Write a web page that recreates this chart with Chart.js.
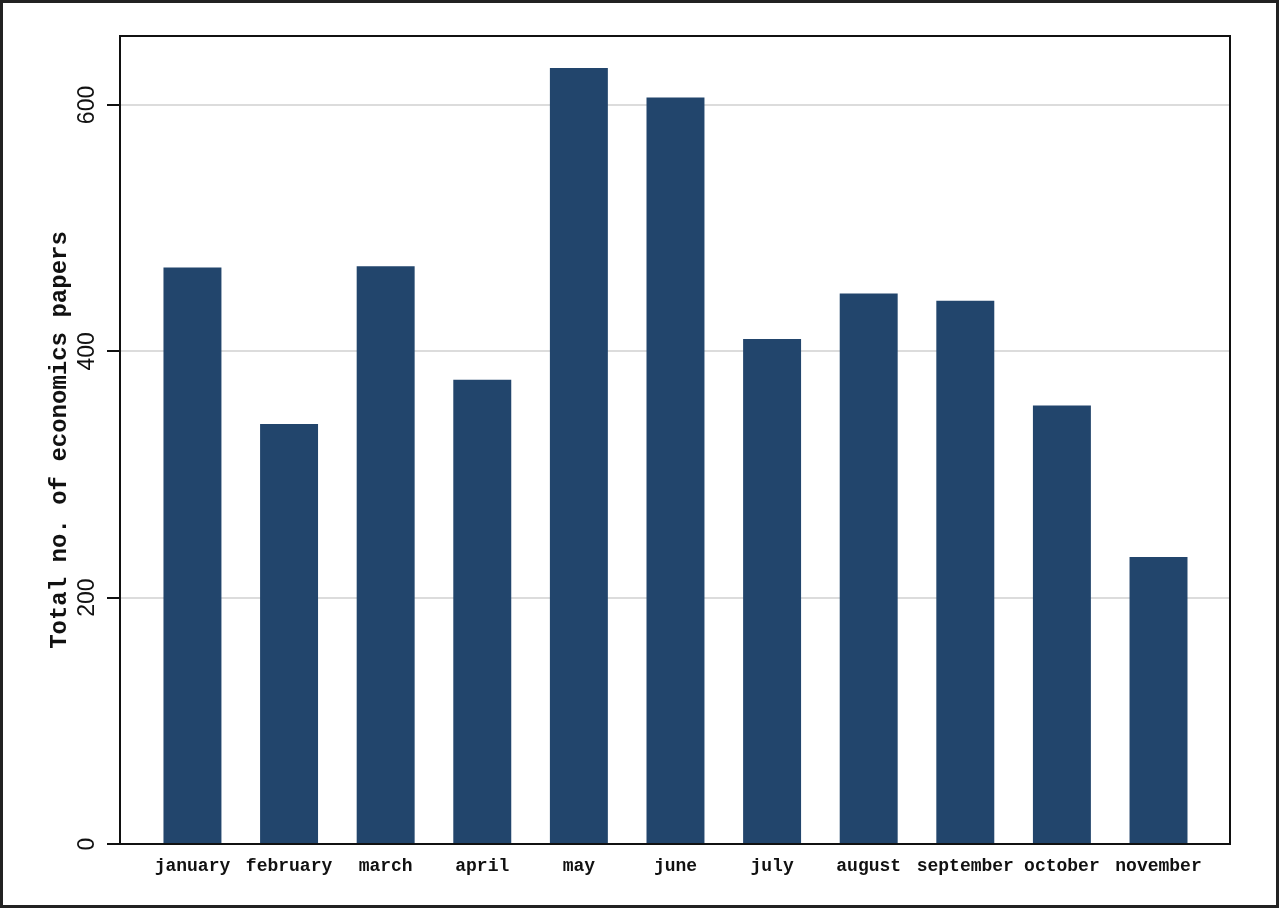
<!DOCTYPE html>
<html>
<head>
<meta charset="utf-8">
<script src="https://cdn.jsdelivr.net/npm/chart.js@4"></script>
<style>
  html, body { margin: 0; padding: 0; background: #fff; }
  #wrap { width: 1280px; height: 910px; position: relative; }
</style>
</head>
<body>
<div id="wrap"><canvas id="chart" width="1280" height="910"></canvas></div>
<script>
const months = ["january", "february", "march", "april", "may", "june",
  "july", "august", "september", "october", "november"];
const papers = [468, 341, 469, 377, 630, 606, 410, 447, 441, 356, 233];
const yTicks = [0, 200, 400, 600];

// draws frame, rotated y tick labels and outer border
const frame = {
  id: "frame",
  afterDatasetsDraw(chart) {
    const { ctx, chartArea: a } = chart;
    const y = chart.scales.y;
    ctx.save();
    ctx.strokeStyle = "#111";
    ctx.lineWidth = 2;
    ctx.strokeRect(a.left, a.top, a.right - a.left, a.bottom - a.top);

    ctx.fillStyle = "#111";
    ctx.font = "23px 'Liberation Sans', Arial, sans-serif";
    ctx.textAlign = "center";
    ctx.textBaseline = "middle";
    yTicks.forEach(v => {
      ctx.save();
      ctx.translate(88, y.getPixelForValue(v));
      ctx.rotate(-Math.PI / 2);
      ctx.fillText(String(v), 0, 0);
      ctx.restore();
    });

    ctx.strokeStyle = "#222";
    ctx.lineWidth = 3;
    ctx.strokeRect(1.5, 1.5, chart.width - 4, chart.height - 5);
    ctx.restore();
  }
};

new Chart(document.getElementById("chart"), {
  type: "bar",
  data: {
    datasets: [{
      data: papers.map((v, i) => ({ x: i, y: v })),
      backgroundColor: "#22456c",
      borderWidth: 0,
      barPercentage: 0.6,
      categoryPercentage: 1
    }]
  },
  options: {
    responsive: false,
    animation: false,
    devicePixelRatio: 1,
    layout: { padding: { left: 0, top: 36, right: 50, bottom: 0 } },
    plugins: { legend: { display: false }, tooltip: { enabled: false } },
    scales: {
      x: {
        type: "linear",
        offset: false,
        min: -0.75,
        max: 10.74,
        afterBuildTicks: s => { s.ticks = months.map((m, i) => ({ value: i })); },
        afterFit: s => { s.height = 66; },
        grid: { display: false, drawTicks: false, offset: false },
        border: { display: false },
        ticks: {
          autoSkip: false,
          maxRotation: 0,
          minRotation: 0,
          padding: 12,
          color: "#111",
          font: { family: "'Liberation Mono', 'Courier New', monospace", size: 18, weight: "bold" },
          callback: v => months[v] ?? ""
        }
      },
      y: {
        min: 0,
        max: 656,
        afterBuildTicks: s => { s.ticks = yTicks.map(v => ({ value: v })); },
        afterFit: s => { s.width = 120; },
        border: { display: false },
        grid: {
          color: c => c.tick && c.tick.value === 0 ? "rgba(0,0,0,0)" : "#dcdcdc",
          lineWidth: 2,
          drawTicks: true,
          tickLength: 13,
          tickColor: "#111",
          tickWidth: 2
        },
        ticks: { color: "rgba(0,0,0,0)", padding: 4 },
        title: {
          display: true,
          text: "Total no. of economics papers",
          color: "#111",
          padding: { top: 46, bottom: 0 },
          font: { family: "'Liberation Mono', 'Courier New', monospace", size: 24, weight: "bold" }
        }
      }
    }
  },
  plugins: [frame]
});
</script>
</body>
</html>
